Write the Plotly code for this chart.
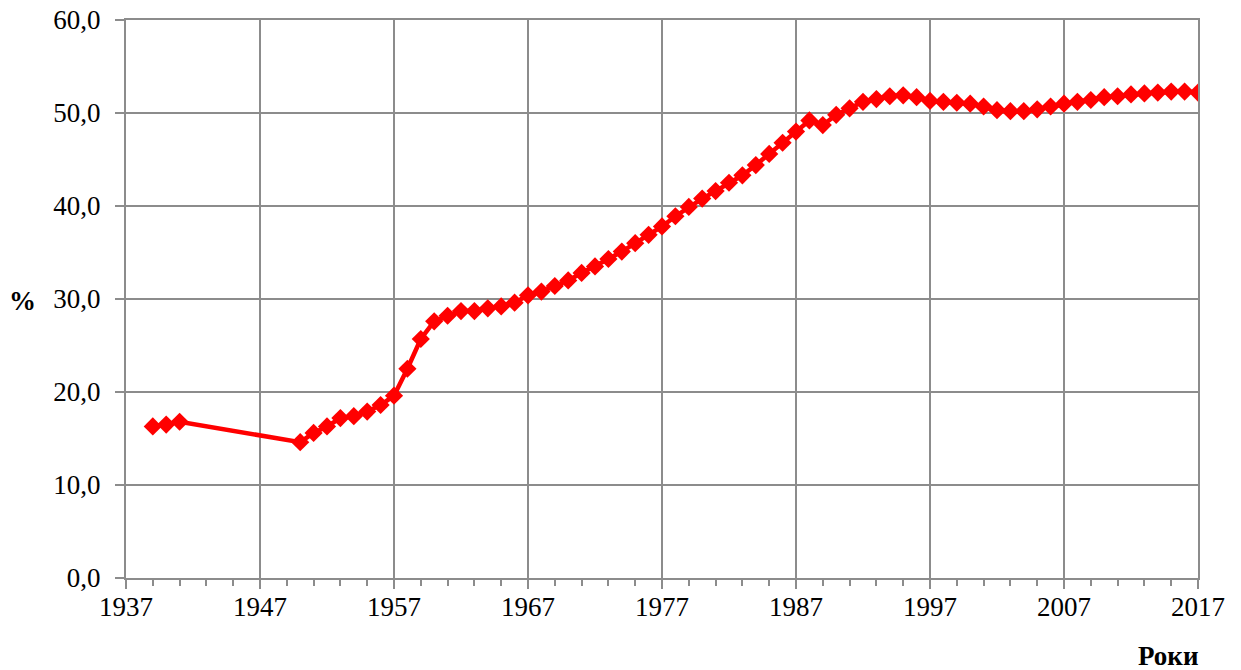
import plotly.graph_objects as go

years = [1939, 1940, 1941] + list(range(1950, 2018))
values = [
    16.3, 16.5, 16.8,
    14.6, 15.6, 16.3, 17.2, 17.4, 17.9, 18.6, 19.6, 22.5, 25.7,
    27.6, 28.2, 28.7, 28.7, 29.0, 29.2, 29.6, 30.4, 30.8, 31.4,
    32.0, 32.8, 33.5, 34.3, 35.1, 36.0, 36.9, 37.8, 38.9, 39.9,
    40.8, 41.6, 42.5, 43.3, 44.4, 45.6, 46.8, 48.0, 49.2, 48.7,
    49.8, 50.5, 51.2, 51.5, 51.8, 51.9, 51.7, 51.3, 51.2, 51.1,
    51.0, 50.7, 50.3, 50.2, 50.2, 50.4, 50.7, 51.0, 51.2, 51.4,
    51.7, 51.8, 52.0, 52.1, 52.2, 52.3, 52.3, 52.2,
]

x_label = "Роки"
y_label = "%"

grid = "#8c8c8c"
font_family = "Liberation Serif, Times New Roman, serif"
fs = 27

fig = go.Figure(
    go.Scatter(
        x=years,
        y=values,
        mode="lines+markers",
        line=dict(color="#ff0000", width=4.5),
        marker=dict(symbol="diamond", size=14, color="#ff0000"),
        showlegend=False,
    )
)

fig.update_layout(
    width=1241,
    height=670,
    margin=dict(l=126, r=43, t=20, b=92),
    paper_bgcolor="white",
    plot_bgcolor="white",
    separators=", ",
    font=dict(family=font_family, size=fs, color="black"),
    annotations=[
        dict(text="<b>" + y_label + "</b>", xref="paper", yref="paper",
             x=-0.0965, y=0.497, xanchor="center", yanchor="middle",
             showarrow=False, font=dict(size=fs, family=font_family)),
        dict(text="<b>" + x_label + "</b>", xref="paper", yref="paper",
             x=0.972, y=-0.140, xanchor="center", yanchor="middle",
             showarrow=False, font=dict(size=fs, family=font_family)),
    ],
)

fig.update_xaxes(
    range=[1937, 2017],
    tick0=1937,
    dtick=10,
    ticks="outside",
    ticklen=9,
    tickwidth=2,
    tickcolor=grid,
    showgrid=True,
    gridcolor=grid,
    gridwidth=2,
    showline=True,
    linecolor=grid,
    linewidth=2,
    mirror=True,
    zeroline=False,
    minor=dict(dtick=2, tick0=1937, ticks="outside", ticklen=6,
               tickwidth=2, tickcolor=grid, showgrid=False),
    tickfont=dict(size=fs),
    ticklabeloverflow="allow",
    ticklabelstandoff=-5,
    automargin=False,
)

fig.update_yaxes(
    range=[0, 60],
    dtick=10,
    tickformat=".1f",
    ticks="outside",
    ticklen=9,
    tickwidth=2,
    tickcolor=grid,
    showgrid=True,
    gridcolor=grid,
    gridwidth=2,
    showline=True,
    linecolor=grid,
    linewidth=2,
    mirror=True,
    zeroline=False,
    tickfont=dict(size=fs),
    ticklabeloverflow="allow",
    ticklabelstandoff=9,
    automargin=False,
)

fig.write_html(
    "out.html",
    config={"displayModeBar": False},
    post_script="document.body.style.margin='0';document.body.style.overflow='hidden';",
)
